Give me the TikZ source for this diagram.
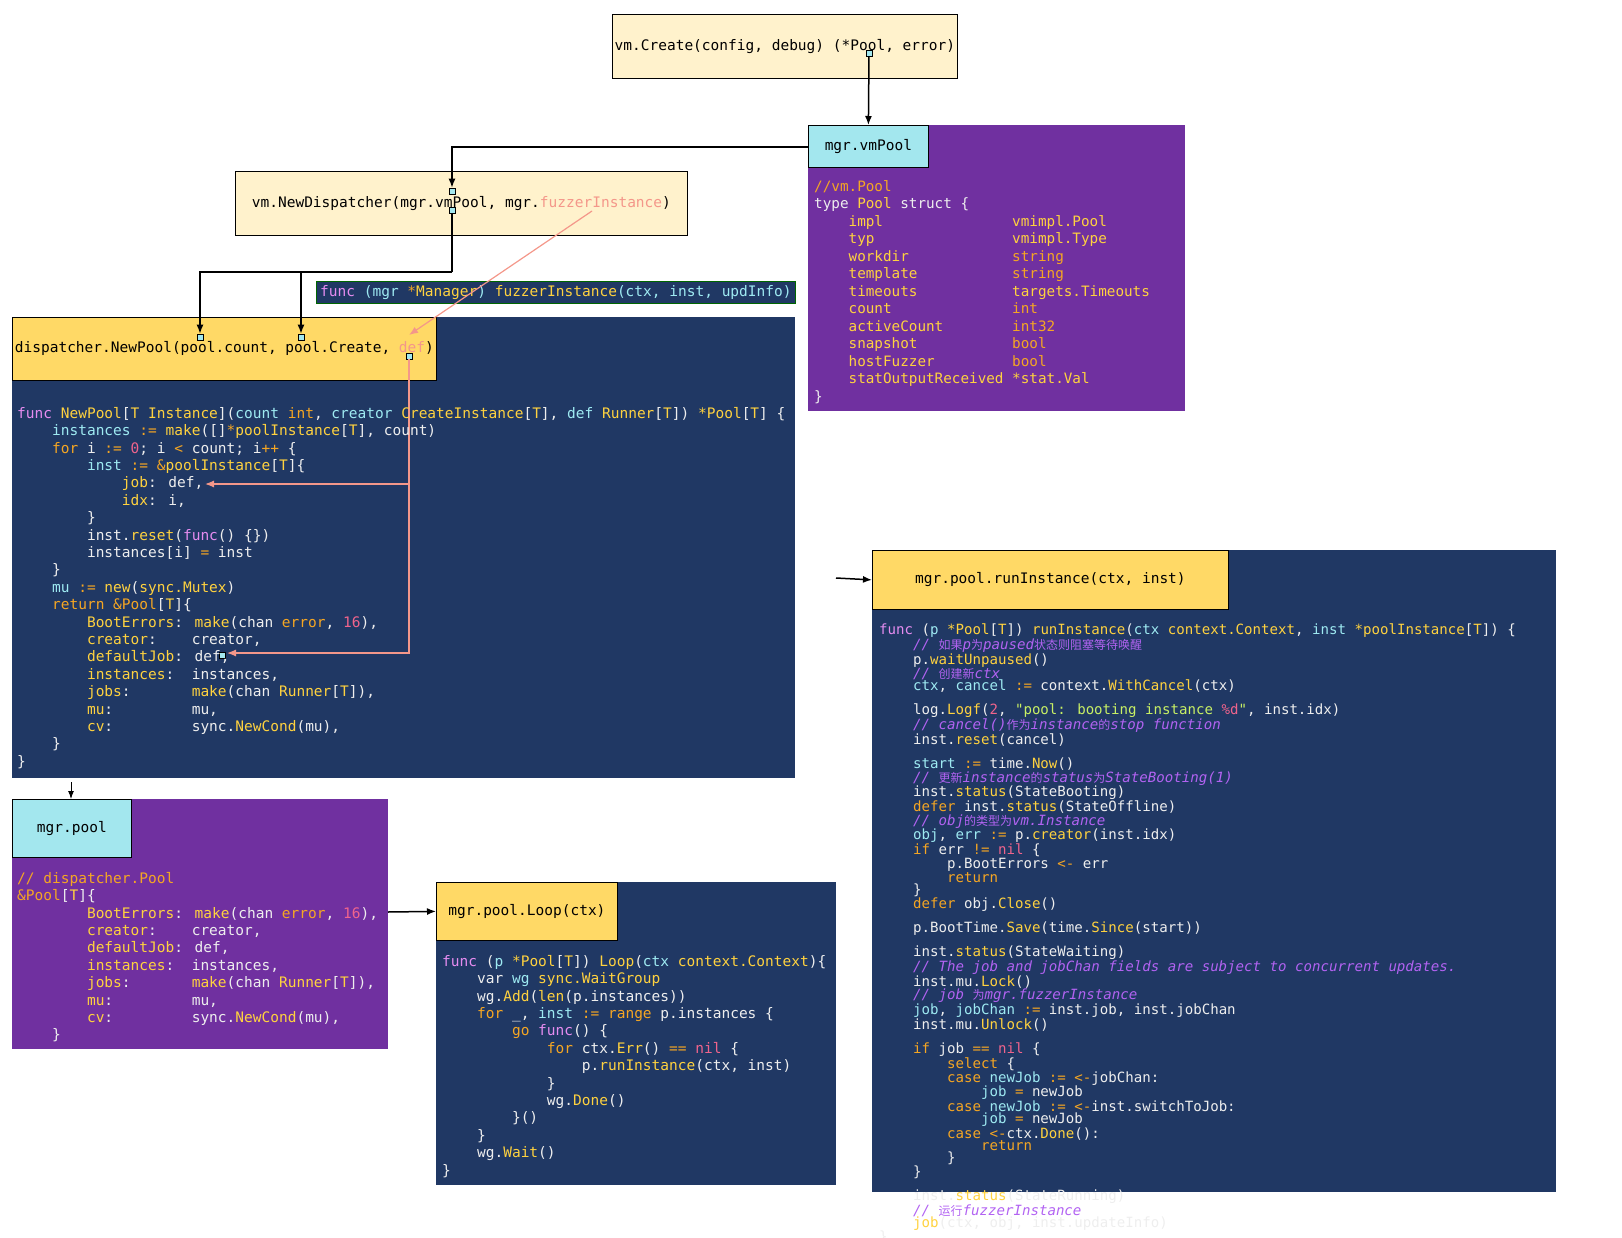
\documentclass[tikz,border=0pt]{standalone}
\usepackage{fontspec}
\usetikzlibrary{arrows.meta}
\newfontfamily\codefont{DejaVu Sans Mono}
\newfontfamily\zhfont{Noto Sans CJK SC}
\definecolor{navy}{HTML}{203864}
\definecolor{violet}{HTML}{7030A0}
\definecolor{gold}{HTML}{FFD966}
\definecolor{cream}{HTML}{FFF2CC}
\definecolor{aqua}{HTML}{A3E7EE}
\definecolor{salmon}{HTML}{F4978A}
\definecolor{ckw}{HTML}{F5A623}
\definecolor{cfn}{HTML}{FFD23F}
\definecolor{cid}{HTML}{9EEAF2}
\definecolor{cfc}{HTML}{E58CF0}
\definecolor{cnum}{HTML}{F0648C}
\definecolor{cstr}{HTML}{C8F064}
\definecolor{ccm}{HTML}{B263F2}
\definecolor{ctxt}{HTML}{EEEEEE}
% code tokens
\newcommand\K[1]{\textcolor{ckw}{#1}}
\newcommand\N[1]{\textcolor{cfn}{#1}}
\newcommand\V[1]{\textcolor{cid}{#1}}
\newcommand\F[1]{\textcolor{cfc}{#1}}
\newcommand\U[1]{\textcolor{cnum}{#1}}
\newcommand\Q[1]{\textcolor{cstr}{#1}}
\newcommand\C[1]{\textcolor{ccm}{\itshape #1}}
\newcommand\zh[1]{{\zhfont\fontsize{12}{12}\selectfont #1}}
\newcommand\I[1]{\hspace*{#1\dimexpr0.602em\relax}}
\newcommand\fld[2]{\makebox[19\dimexpr0.602em\relax][l]{\N{#1}}\K{#2}}

\tikzset{
  code/.style={anchor=north west, inner sep=0pt, align=left, text=ctxt,
    font=\codefont\fontsize{14.5}{17.4}\selectfont},
  title/.style={draw=black, line width=0.8pt, anchor=north west, inner sep=0pt,
    font=\codefont\fontsize{14.5}{17.4}\selectfont},
  port/.style={draw=black, fill=aqua, line width=0.6pt, minimum size=6pt, inner sep=0pt},
  link/.style={line width=1.5pt, -{Latex[length=9pt,width=7pt]}},
  jump/.style={salmon, line width=1.2pt, -{Latex[length=9pt,width=7pt]}}
}

\begin{document}
\begin{tikzpicture}[x=1pt, y=-1pt]
\useasboundingbox (0,0) rectangle (1622,1238);

% backgrounds
\fill[violet] (808,125) rectangle (1185,411);
\fill[navy] (12,317) rectangle (795,778);
\fill[violet] (12,799) rectangle (388,1049);
\fill[navy] (436,882) rectangle (836,1185);
\fill[navy] (872,550) rectangle (1556,1192);

% titles
\node[title, fill=cream, minimum width=345pt, minimum height=64pt] (create) at (612,14)
  {vm.Create(config, debug) (*Pool, error)};
\node[title, fill=aqua, minimum width=120pt, minimum height=42pt] (vmpool) at (808,125) {mgr.vmPool};
\node[title, fill=cream, minimum width=452pt, minimum height=64pt] (dispatcher) at (235,171)
  {vm.NewDispatcher(mgr.vmPool, mgr.\textcolor{salmon}{fuzzerInstance})};
\node[title, draw=green!40!black, fill=navy, text=cid, minimum width=479pt, minimum height=22pt] (fuzzer) at (316,281)
  {\F{func} (mgr \K{*}\N{Manager}) \N{fuzzerInstance}(ctx, inst, updInfo)};
\node[title, fill=gold, minimum width=424pt, minimum height=63pt] (newpool) at (12,317)
  {dispatcher.NewPool(pool.count, pool.Create, \textcolor{salmon}{def})};
\node[title, fill=aqua, minimum width=119pt, minimum height=58pt] (mgrpool) at (12,799) {mgr.pool};
\node[title, fill=gold, minimum width=181pt, minimum height=58pt] (loop) at (436,882) {mgr.pool.Loop(ctx)};
\node[title, fill=gold, minimum width=356pt, minimum height=59pt] (run) at (872,550) {mgr.pool.runInstance(ctx, inst)};

% ports
\node[port] (pCreate) at (869,53) {};
\node[port] (pIn) at (452,191) {};
\node[port] (pOut) at (452,210) {};
\node[port] (pCount) at (200,337) {};
\node[port] (pCreator) at (301,337) {};
\node[port] (pDef) at (409,356) {};
\node[port] (pDefault) at (222,655) {};

% connectors
\coordinate (bend) at (452,272);
\coordinate (fzStart) at (592,211);
\coordinate (jobDef) at (205,484);
\coordinate (defaultDef) at (227,653);
\coordinate (poolOut) at (388,912);
\coordinate (runIn) at (836,578);
\draw[link] (pCreate) -- (vmpool.north);
\draw[link] (vmpool.west |- 0,147) -| (pIn.north);
\draw[line width=1.5pt] (pOut.south) -- (bend);
\draw[link] (bend) -| (pCount.north);
\draw[link] (bend) -| (pCreator.north);
\draw[jump] (fzStart) -- (pDef.north |- 0,335);
\draw[jump] (pDef.south) |- (jobDef);
\draw[jump] (pDef.south) |- (defaultDef);
\draw[line width=1pt, -{Latex[length=8pt,width=6pt]}] (71,782) -- (mgrpool.north -| 71,0);
\draw[line width=1.5pt, -{Latex[length=9pt,width=7pt]}] (poolOut) -- (loop.west);
\draw[line width=1.5pt, -{Latex[length=9pt,width=7pt]}] (runIn) -- (run.west);

% code
\node[code, font=\codefont\fontsize{14.3}{17.5}\selectfont] (poolsrc) at (814,180) {%
\K{//vm.Pool}\\
type \N{Pool} struct \{\\
\I{4}\fld{impl}{\N{vmimpl.Pool}}\\
\I{4}\fld{typ}{\N{vmimpl.Type}}\\
\I{4}\fld{workdir}{string}\\
\I{4}\fld{template}{string}\\
\I{4}\fld{timeouts}{\N{targets.Timeouts}}\\
\I{4}\fld{count}{int}\\
\I{4}\fld{activeCount}{int32}\\
\I{4}\fld{snapshot}{bool}\\
\I{4}\fld{hostFuzzer}{bool}\\
\I{4}\fld{statOutputReceived}{\N{*stat.Val}}\\
\}};

\node[code] (newpoolsrc) at (17,407) {%
\F{func} \N{NewPool}[\N{T} \N{Instance}](\V{count} \K{int}, \V{creator} \N{CreateInstance}[\N{T}], \V{def} \N{Runner}[\N{T}]) \N{*Pool}[\N{T}] \{\\
\I{4}\V{instances} \K{:=} \N{make}([]\K{*}\N{poolInstance}[\N{T}], count)\\
\I{4}\K{for} i \K{:=} \U{0}; i \K{<} count; i\K{++} \{\\
\I{8}\V{inst} \K{:=} \K{\&}\N{poolInstance}[\N{T}]\{\\
\I{12}\N{job}: def,\\
\I{12}\N{idx}: i,\\
\I{8}\}\\
\I{8}inst.\N{reset}(\F{func}() \{\})\\
\I{8}instances[i] \K{=} inst\\
\I{4}\}\\
\I{4}\V{mu} \K{:=} \N{new}(\N{sync.Mutex})\\
\I{4}\K{return} \K{\&Pool}[\N{T}]\{\\
\I{8}\N{BootErrors}: \N{make}(chan \K{error}, \U{16}),\\
\I{8}\N{creator}:\I{4}creator,\\
\I{8}\N{defaultJob}: def,\\
\I{8}\N{instances}:\I{2}instances,\\
\I{8}\N{jobs}:\I{7}\N{make}(chan \N{Runner}[\N{T}]),\\
\I{8}\N{mu}:\I{9}mu,\\
\I{8}\N{cv}:\I{9}sync.\N{NewCond}(mu),\\
\I{4}\}\\
\}};

\node[code] (mgrpoolsrc) at (17,872) {%
\K{// dispatcher.Pool}\\
\K{\&Pool}[\N{T}]\{\\
\I{8}\N{BootErrors}: \N{make}(chan \K{error}, \U{16}),\\
\I{8}\N{creator}:\I{4}creator,\\
\I{8}\N{defaultJob}: def,\\
\I{8}\N{instances}:\I{2}instances,\\
\I{8}\N{jobs}:\I{7}\N{make}(chan \N{Runner}[\N{T}]),\\
\I{8}\N{mu}:\I{9}mu,\\
\I{8}\N{cv}:\I{9}sync.\N{NewCond}(mu),\\
\I{4}\}};

\node[code] (loopsrc) at (442,955) {%
\F{func} (\V{p} \N{*Pool}[\N{T}]) \N{Loop}(\V{ctx} \N{context.Context})\{\\
\I{4}var \V{wg} \N{sync.WaitGroup}\\
\I{4}wg.\N{Add}(\N{len}(p.instances))\\
\I{4}\K{for} \_, \V{inst} \K{:=} \K{range} p.instances \{\\
\I{8}\K{go} \F{func}() \{\\
\I{12}\K{for} ctx.\N{Err}() \K{==} \U{nil} \{\\
\I{16}p.\N{runInstance}(ctx, inst)\\
\I{12}\}\\
\I{12}wg.\N{Done}()\\
\I{8}\}()\\
\I{4}\}\\
\I{4}wg.\N{Wait}()\\
\}};

\node[code, font=\codefont\fontsize{14.1}{12.1}\selectfont] (runsrc) at (879,624) {%
\F{func} (\V{p} \N{*Pool}[\N{T}]) \N{runInstance}(\V{ctx} \N{context.Context}, \V{inst} \N{*poolInstance}[\N{T}]) \{\\
\I{4}\C{// \zh{如果}p\zh{为}paused\zh{状态则阻塞等待唤醒}}\\
\I{4}p.\N{waitUnpaused}()\\
\I{4}\C{// \zh{创建新}ctx}\\
\I{4}\V{ctx}, \V{cancel} \K{:=} context.\N{WithCancel}(ctx)\\
\mbox{}\\
\I{4}log.\N{Logf}(\U{2}, \Q{"pool: booting instance \U{\%d}"}, inst.idx)\\
\I{4}\C{// cancel()\zh{作为}instance\zh{的}stop function}\\
\I{4}inst.\N{reset}(cancel)\\
\mbox{}\\
\I{4}\V{start} \K{:=} time.\N{Now}()\\
\I{4}\C{// \zh{更新}instance\zh{的}status\zh{为}StateBooting(1)}\\
\I{4}inst.\N{status}(StateBooting)\\
\I{4}\K{defer} inst.\N{status}(StateOffline)\\
\I{4}\C{// obj\zh{的类型为}vm.Instance}\\
\I{4}\V{obj}, \V{err} \K{:=} p.\N{creator}(inst.idx)\\
\I{4}\K{if} err \K{!=} \U{nil} \{\\
\I{8}p.BootErrors \K{<-} err\\
\I{8}\K{return}\\
\I{4}\}\\
\I{4}\K{defer} obj.\N{Close}()\\
\mbox{}\\
\I{4}p.BootTime.\N{Save}(time.\N{Since}(start))\\
\mbox{}\\
\I{4}inst.\N{status}(StateWaiting)\\
\I{4}\C{// The job and jobChan fields are subject to concurrent updates.}\\
\I{4}inst.mu.\N{Lock}()\\
\I{4}\C{// job \zh{为}mgr.fuzzerInstance}\\
\I{4}\V{job}, \V{jobChan} \K{:=} inst.job, inst.jobChan\\
\I{4}inst.mu.\N{Unlock}()\\
\mbox{}\\
\I{4}\K{if} job \K{==} \U{nil} \{\\
\I{8}\K{select} \{\\
\I{8}\K{case} \V{newJob} \K{:=} \K{<-}jobChan:\\
\I{12}\V{job} \K{=} newJob\\
\I{8}\K{case} \V{newJob} \K{:=} \K{<-}inst.switchToJob:\\
\I{12}\V{job} \K{=} newJob\\
\I{8}\K{case} \K{<-}ctx.\N{Done}():\\
\I{12}\K{return}\\
\I{8}\}\\
\I{4}\}\\
\mbox{}\\
\I{4}inst.\N{status}(StateRunning)\\
\I{4}\C{// \zh{运行}fuzzerInstance}\\
\I{4}\N{job}(ctx, obj, inst.updateInfo)\\
\}};
\end{tikzpicture}
\end{document}
